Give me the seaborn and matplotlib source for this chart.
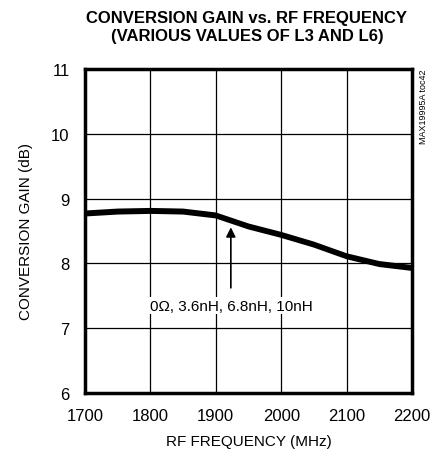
import numpy as np
import pandas as pd
import matplotlib
matplotlib.use("Agg")
import matplotlib.pyplot as plt
import seaborn as sns

# RF frequency (MHz) and conversion gain (dB) for the four L3/L6 values
freq = [1700, 1750, 1800, 1850, 1900, 1950, 2000, 2050, 2100, 2150, 2200]
gain_0ohm = [8.80, 8.83, 8.84, 8.83, 8.77, 8.60, 8.47, 8.32, 8.14, 8.02, 7.96]
gain_3n6 = [8.78, 8.81, 8.82, 8.81, 8.75, 8.58, 8.45, 8.30, 8.12, 8.00, 7.94]
gain_6n8 = [8.76, 8.79, 8.80, 8.79, 8.73, 8.56, 8.43, 8.28, 8.10, 7.98, 7.92]
gain_10n = [8.74, 8.77, 8.78, 8.77, 8.71, 8.54, 8.41, 8.26, 8.08, 7.96, 7.90]
labels = ["0Ω", "3.6nH", "6.8nH", "10nH"]

df = pd.DataFrame({"freq": freq * 4,
                   "gain": gain_0ohm + gain_3n6 + gain_6n8 + gain_10n,
                   "L": np.repeat(labels, len(freq))})

sns.set_style("white")
plt.rcParams['font.family'] = ['Liberation Sans', 'DejaVu Sans']
plt.rcParams['text.color'] = 'black'
plt.rcParams['axes.labelcolor'] = 'black'
plt.rcParams['xtick.color'] = 'black'
plt.rcParams['ytick.color'] = 'black'

fig = plt.figure(figsize=(4.41, 4.56), dpi=100)
ax = fig.add_axes([85 / 441, 1 - 394 / 456, 327 / 441, 324 / 456])

sns.lineplot(data=df, x="freq", y="gain", hue="L", palette=["black"] * 4,
             linewidth=1.5, legend=False, ax=ax)

ax.set_xlim(1700, 2200)
ax.set_ylim(6, 11)
ax.set_xticks(range(1700, 2201, 100))
ax.set_yticks(range(6, 12))
ax.grid(True, color="black", linewidth=0.9)
for s in ax.spines.values():
    s.set_linewidth(2.5)
    s.set_color("black")
ax.tick_params(labelsize=12, length=0)
ax.tick_params(axis="x", pad=11)
ax.tick_params(axis="y", pad=11)

ax.set_xlabel("RF FREQUENCY (MHz)", fontsize=11, labelpad=8)
ax.set_ylabel("CONVERSION GAIN (dB)", fontsize=11, labelpad=13)

fig.text(0.56, 0.975, "CONVERSION GAIN vs. RF FREQUENCY\n(VARIOUS VALUES OF L3 AND L6)",
         ha="center", va="top", fontsize=12, fontweight="bold", linespacing=1.25)

ax.annotate("", xy=(1923, 8.6), xytext=(1923, 7.58),
            arrowprops=dict(arrowstyle="-|>", color="black", lw=1.2,
                            mutation_scale=14))
ax.text(1924, 7.35, ", ".join(labels), ha="center", va="center", fontsize=11,
        bbox=dict(facecolor="white", edgecolor="none", pad=1))

fig.text(424 / 441, 1 - 70 / 456, "MAX19995A toc42", rotation=90, ha="center",
         va="top", fontsize=6.5)

plt.savefig("out.png", dpi=100)
